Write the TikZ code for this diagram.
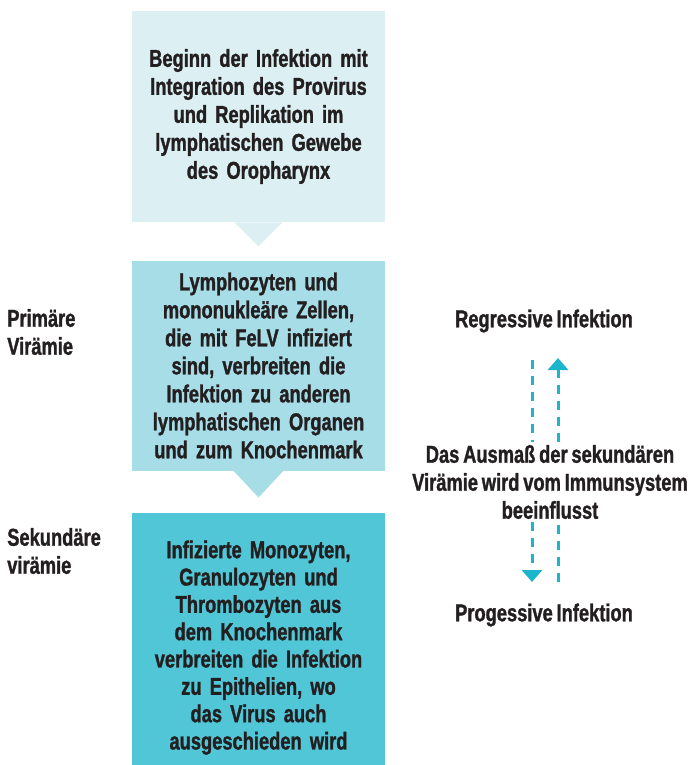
\documentclass[tikz,border=0pt]{standalone}
\usepackage{fontspec}
\setmainfont{Liberation Sans}[FakeStretch=0.75,WordSpace=0.75,BoldFeatures={FakeBold=1.2}]
\usetikzlibrary{positioning,arrows.meta}

\definecolor{stageone}{HTML}{DCF0F4}
\definecolor{stagetwo}{HTML}{A7DDE7}
\definecolor{stagethree}{HTML}{50C6D6}
\definecolor{arrowcol}{HTML}{1BB6CB}
\definecolor{inkcol}{HTML}{231F20}

\begin{document}
\begin{tikzpicture}[x=0.75pt,y=-0.75pt,
    every node/.style={text=inkcol,font=\bfseries\fontsize{18.3}{21}\selectfont},
    stage/.style={minimum width=189.75pt,text width=185pt,align=center,inner sep=0pt},
    sidelabel/.style={align=left,anchor=west,inner sep=0pt},
    note/.style={align=center,inner sep=2pt},
    dashln/.style={arrowcol,line width=2.25pt,dash pattern=on 6.75pt off 5.25pt}]

    % --- page frame ---
    \useasboundingbox (0,0) rectangle (697,765);

    % --- the three stages ---
    \node[stage,fill=stageone,minimum height=158.25pt] (beginn) at (258.5,116.5)
        {Beginn der Infektion mit\\Integration des Provirus\\und Replikation im\\lymphatischen Gewebe\\des Oropharynx};
    \node[stage,fill=stagetwo,minimum height=157.5pt,below=28.5pt of beginn] (lympho)
        {Lymphozyten und\\mononukleäre Zellen,\\die mit FeLV infiziert\\sind, verbreiten die\\Infektion zu anderen\\lymphatischen Organen\\und zum Knochenmark};
    \node[stage,fill=stagethree,minimum height=189.75pt,below=31.5pt of lympho] (mono) {};
    \node[stage,font=\bfseries\fontsize{18.3}{20.5}\selectfont] (monotext)
        at ([yshift=-6pt]mono.center)
        {Infizierte Monozyten,\\Granulozyten und\\Thrombozyten aus\\dem Knochenmark\\verbreiten die Infektion\\zu Epithelien, wo\\das Virus auch\\ausgeschieden wird};

    % pointers under the boxes
    \fill[stageone] ([xshift=-18pt]beginn.south) -- ([xshift=18pt]beginn.south)
        -- ([yshift=-18pt]beginn.south) -- cycle;
    \fill[stagetwo] ([xshift=-18.75pt]lympho.south) -- ([xshift=18.75pt]lympho.south)
        -- ([yshift=-20pt]lympho.south) -- cycle;

    % --- left labels ---
    \node[sidelabel] (primaer) at (7,332) {Primäre\\Virämie};
    \node[sidelabel] (sekundaer) at (7,551) {Sekundäre\\virämie};

    % --- right side ---
    \node[note] (regressiv) at (544,321) {Regressive Infektion};
    \node[note] (ausmass) at (550,482) {Das Ausmaß der sekundären\\Virämie wird vom Immunsystem\\beeinflusst};
    \node[note] (progressiv) at (544,615) {Progessive Infektion};

    \coordinate (la) at (532,360);
    \coordinate (lb) at (532,582);
    \coordinate (ra) at (558,582);
    \coordinate (rb) at (558,358);

    \draw[dashln] (la) -- (la |- ausmass.north);
    \draw[dashln,-{Triangle[width=15pt,length=9pt]}] (la |- ausmass.south) -- (lb);
    \draw[dashln] (ra) -- (ra |- ausmass.south);
    \draw[dashln,-{Triangle[width=15pt,length=9pt]}] (ra |- ausmass.north) -- (rb);

\end{tikzpicture}
\end{document}
